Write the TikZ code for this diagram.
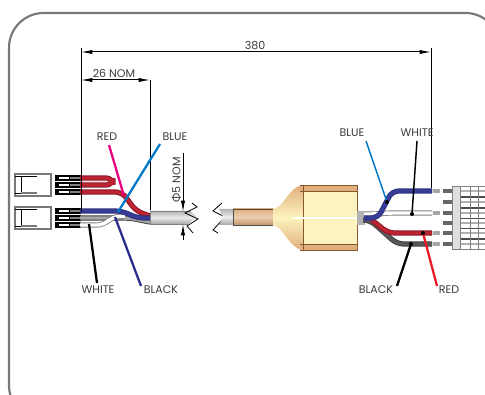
\documentclass[tikz,border=0pt]{standalone}
\usepackage{fontspec}
\setmainfont{Poppins}
\newfontfamily\symfont{Lato}
\definecolor{framegray}{RGB}{120,120,120}
\definecolor{txtgray}{RGB}{60,60,60}
\definecolor{wirered}{RGB}{190,35,50}
\definecolor{wireblue}{RGB}{55,60,150}
\definecolor{wireblack}{RGB}{60,60,60}
\definecolor{leadmagenta}{RGB}{230,0,125}
\definecolor{leadblue}{RGB}{0,120,200}
\definecolor{leadnavy}{RGB}{40,45,140}
\definecolor{leadred}{RGB}{235,25,40}
\definecolor{moldtan}{RGB}{225,175,125}
\definecolor{moldpale}{RGB}{253,243,190}
\tikzset{every picture/.style={line width=0.75pt}}
\tikzset{
  lbl/.style={inner sep=0.75pt,text=txtgray,font=\fontsize{8.3}{10}\selectfont},
  dimline/.style={line width=0.75pt,{Latex[length=8.5pt,width=3.2pt]}-{Latex[length=8.5pt,width=3.2pt]}},
  extline/.style={line width=0.75pt},
  leader/.style={line width=1.7pt},
  wireout/.style={line width=3.9pt,rounded corners=5pt},
  wirein/.style={line width=2.6pt,rounded corners=5pt},
}
\usetikzlibrary{arrows.meta}

\begin{document}
\begin{tikzpicture}[x=0.75pt,y=0.75pt,yscale=-1,xscale=1]
\useasboundingbox (0,0) rectangle (485,395);

%Frame
\draw [color=framegray,line width=1.6pt,rounded corners=26] (9,420) -- (9,13) -- (500,13) -- (500,420) -- cycle ;

%Left housings
\foreach \y in {174,207} {
  \draw [color=framegray,fill=white,line width=1pt] (15,\y) rectangle (51,\y+22) ;
  \draw [line width=0.6pt] (37,\y+2) -- (21,\y+2) -- (21,\y+19) -- (37,\y+19) ;
  \draw [line width=0.6pt] (15,\y+2) -- (21,\y+2) (15,\y+19) -- (21,\y+19) ;
  \draw [color=framegray,line width=1.4pt] (21,\y+19) -- (37,\y+19) ;
}

%Left terminals
\foreach \y in {178,185,192,211,218,225} {
  \draw [line width=4.4pt,color=black] (55,\y) -- (81,\y) ;
  \draw [line width=2.2pt,color=white] (59,\y) -- (69,\y) ;
  \draw [line width=1pt,color=gray] (70,\y) -- (80,\y) ;
}

%Left wires
\draw [wireout,color=wirered!70!black] (80,178) -- (113,178) -- (113,185) -- (80,185) ;
\draw [wirein,color=wirered] (80,178) -- (113,178) -- (113,185) -- (80,185) ;
\draw [line width=1pt,color=white!85!red] (82,181.5) -- (108,181.5) ;
\draw [wireout,color=wirered!70!black] (80,192) -- (122,192) -- (136,211) -- (150,216) ;
\draw [wirein,color=wirered] (80,192) -- (122,192) -- (136,211) -- (150,216) ;
\draw [wireout,color=wireblack] (80,218) -- (130,218) -- (150,222) ;
\draw [wirein,color=gray!70] (80,218) -- (130,218) -- (150,222) ;
\draw [wireout,color=gray] (80,225) -- (104,225) -- (112,217) -- (125,216) ;
\draw [wirein,color=white] (80,225) -- (104,225) -- (112,217) -- (125,216) ;
\draw [wireout,color=wireblue!80!black] (80,211) -- (122,211) -- (137,218) -- (150,218) ;
\draw [wirein,color=wireblue] (80,211) -- (122,211) -- (137,218) -- (150,218) ;

%Cable, left of the break
\shade [top color=gray!60,bottom color=gray!70,middle color=gray!15] (150,211) -- (190,211) -- (197,217) -- (188,224) -- (150,224) -- cycle ;
\draw [color=gray,line width=0.5pt] (190,211) -- (150,211) -- (150,224) -- (188,224) ;

%Break lines
\draw [line width=0.6pt] (192,203) -- (197,207) -- (185,213) -- (198,219) -- (187,226) -- (193,233) ;
\draw [line width=0.6pt] (222,203) -- (213,211) -- (225,217) -- (213,230) -- (218,233) ;

%Cable, right of the break
\shade [top color=gray!60,bottom color=gray!70,middle color=gray!15] (219,209) -- (233,209) -- (233,225) -- (219,225) -- (223,217) -- cycle ;
\shade [top color=moldtan,bottom color=moldtan!85!black,middle color=moldtan!60] (233,209) rectangle (273,225) ;
\draw [color=black!70,line width=0.6pt] (233,209) -- (273,209) (233,225) -- (273,225) (233,209) -- (233,225) (273,209) -- (273,225) ;

%Molding
\shade [top color=moldtan,bottom color=moldtan,middle color=moldpale] (273,209) .. controls (285,207) and (288,187) .. (303,185) -- (303,250) .. controls (288,248) and (285,228) .. (273,225) -- cycle ;
\fill [color=moldpale] (303,185) rectangle (357,250) ;
\fill [color=moldtan] (300,185) rectangle (357,191) ;
\fill [color=moldtan] (300,244) rectangle (357,250) ;
\draw [color=brown!70!black,line width=0.6pt] (300,191) -- (357,191) (300,244) -- (357,244) (300,185) -- (357,185) -- (357,250) -- (300,250) ;
\draw [color=brown!70!black,line width=0.4pt] (303,185) -- (303,250) ;
\draw [color=white,line width=2pt] (293,218) -- (357,218) ;
\fill [color=gray!60] (357,211) rectangle (365,225) ;

%Right wires
\draw [wireout,color=gray] (364,214) -- (378,214) -- (386,213) -- (432,213) ;
\draw [wirein,color=white] (364,214) -- (378,214) -- (386,213) -- (432,213) ;
\draw [wireout,color=wireblack] (364,220) -- (370,220) -- (397,244) -- (432,244) ;
\draw [wirein,color=wireblack!85] (364,220) -- (370,220) -- (397,244) -- (432,244) ;
\draw [wireout,color=wirered!70!black] (372,220) -- (388,233) -- (432,233) ;
\draw [wirein,color=wirered] (372,220) -- (388,233) -- (432,233) ;
\draw [wireout,color=wireblue!80!black] (364,218) -- (378,218) -- (392,191) -- (432,191) ;
\draw [wirein,color=wireblue] (364,218) -- (378,218) -- (392,191) -- (432,191) ;

%Right terminals and housing
\foreach \y in {191,213,233,244} {
  \draw [line width=2.4pt,color=gray!70] (433,\y) -- (440,\y) ;
}
\foreach \y in {191,202,213,223,233,244} {
  \draw [line width=3pt,color=black!60] (443,\y) -- (453,\y) ;
  \draw [line width=0.6pt,color=black!70] (460,\y-5) -- (485,\y-5) (460,\y+5) -- (485,\y+5) ;
  \draw [line width=1pt,color=gray!60] (460,\y) -- (485,\y) ;
}
\fill [color=gray!25] (452,186) rectangle (460,249) ;
\draw [color=gray,line width=0.6pt] (485,186) -- (452,186) -- (452,249) -- (485,249) ;
\draw [color=gray,line width=0.6pt] (460,186) -- (460,249) (470,186) -- (470,249) (478,186) -- (478,249) ;

%Dimension lines
\coordinate (dimA) at (81,52) ;
\coordinate (dimB) at (431,52) ;
\coordinate (dimC) at (81,80) ;
\coordinate (dimD) at (150,80) ;
\coordinate (extA) at (81,212) ;
\coordinate (extB) at (431,188) ;
\coordinate (extD) at (150,210) ;
\coordinate (phiTop) at (183,153) ;
\coordinate (phiEnd) at (183,240) ;
\coordinate (phiA) at (183,212) ;
\coordinate (phiB) at (183,224) ;
\draw [dimline] (dimA) -- (dimB) ;
\draw [dimline] (dimC) -- (dimD) ;
\draw [extline] (dimA) -- ([yshift=-3pt]dimA) ;
\draw [extline] (dimB) -- ([yshift=-3pt]dimB) ;
\draw [extline] (dimA) -- (extA) ;
\draw [extline] (dimB) -- (extB) ;
\draw [extline] (dimD) -- (extD) ;
\draw [extline,-{Latex[length=8.5pt,width=3.2pt]}] (phiTop) -- (phiA) ;
\draw [extline,-{Latex[length=8.5pt,width=3.2pt]}] (phiEnd) -- (phiB) ;

% Text Node
\draw (255,46) node (lblLong) [lbl] {380};
% Text Node
\draw (114,73.5) node (lblNom) [lbl] {26 NOM};
% Text Node
\draw (176.5,180) node (lblPhi) [lbl,rotate=90] {{\symfont Φ}5 NOM};
% Text Node
\draw (107,137) node (lblRedL) [lbl] {RED};
% Text Node
\draw (175,137) node (lblBlueL) [lbl] {BLUE};
% Text Node
\draw (98,290) node (lblWhiteL) [lbl] {WHITE};
% Text Node
\draw (161,290) node (lblBlackL) [lbl] {BLACK};
% Text Node
\draw (352,133) node (lblBlueR) [lbl] {BLUE};
% Text Node
\draw (417,133) node (lblWhiteR) [lbl] {WHITE};
% Text Node
\draw (376,290) node (lblBlackR) [lbl] {BLACK};
% Text Node
\draw (449,290) node (lblRedR) [lbl] {RED};

%Leader lines
\coordinate (redLa) at (109,145) ;
\coordinate (redLb) at (124,196) ;
\coordinate (blueLa) at (160,144) ;
\coordinate (blueLb) at (118,212) ;
\coordinate (whiteLa) at (97,283) ;
\coordinate (whiteLb) at (89,224) ;
\coordinate (blackLa) at (141,286) ;
\coordinate (blackLb) at (115,217) ;
\coordinate (blueRa) at (366,141) ;
\coordinate (blueRb) at (387,202) ;
\coordinate (whiteRa) at (417,141) ;
\coordinate (whiteRb) at (412,214) ;
\coordinate (blackRa) at (397,286) ;
\coordinate (blackRb) at (411,244) ;
\coordinate (redRa) at (437,286) ;
\coordinate (redRb) at (423,233) ;
\draw [leader,color=leadmagenta] (redLa) -- (redLb) ;
\draw [leader,color=leadblue] (blueLa) -- (blueLb) ;
\draw [leader,color=black] (whiteLa) -- (whiteLb) ;
\draw [leader,color=leadnavy] (blackLa) -- (blackLb) ;
\draw [leader,line width=1.1pt,color=leadblue] (blueRa) -- (blueRb) ;
\draw [leader,line width=1.1pt,color=black] (whiteRa) -- (whiteRb) ;
\draw [leader,color=black] (blackRa) -- (blackRb) ;
\draw [leader,color=leadred] (redRa) -- (redRb) ;
\fill (blueRb) circle (2) ;
\fill (whiteRb) circle (2) ;
\fill (redRb) circle (2) ;
\fill (blackRb) circle (2) ;

\end{tikzpicture}
\end{document}
